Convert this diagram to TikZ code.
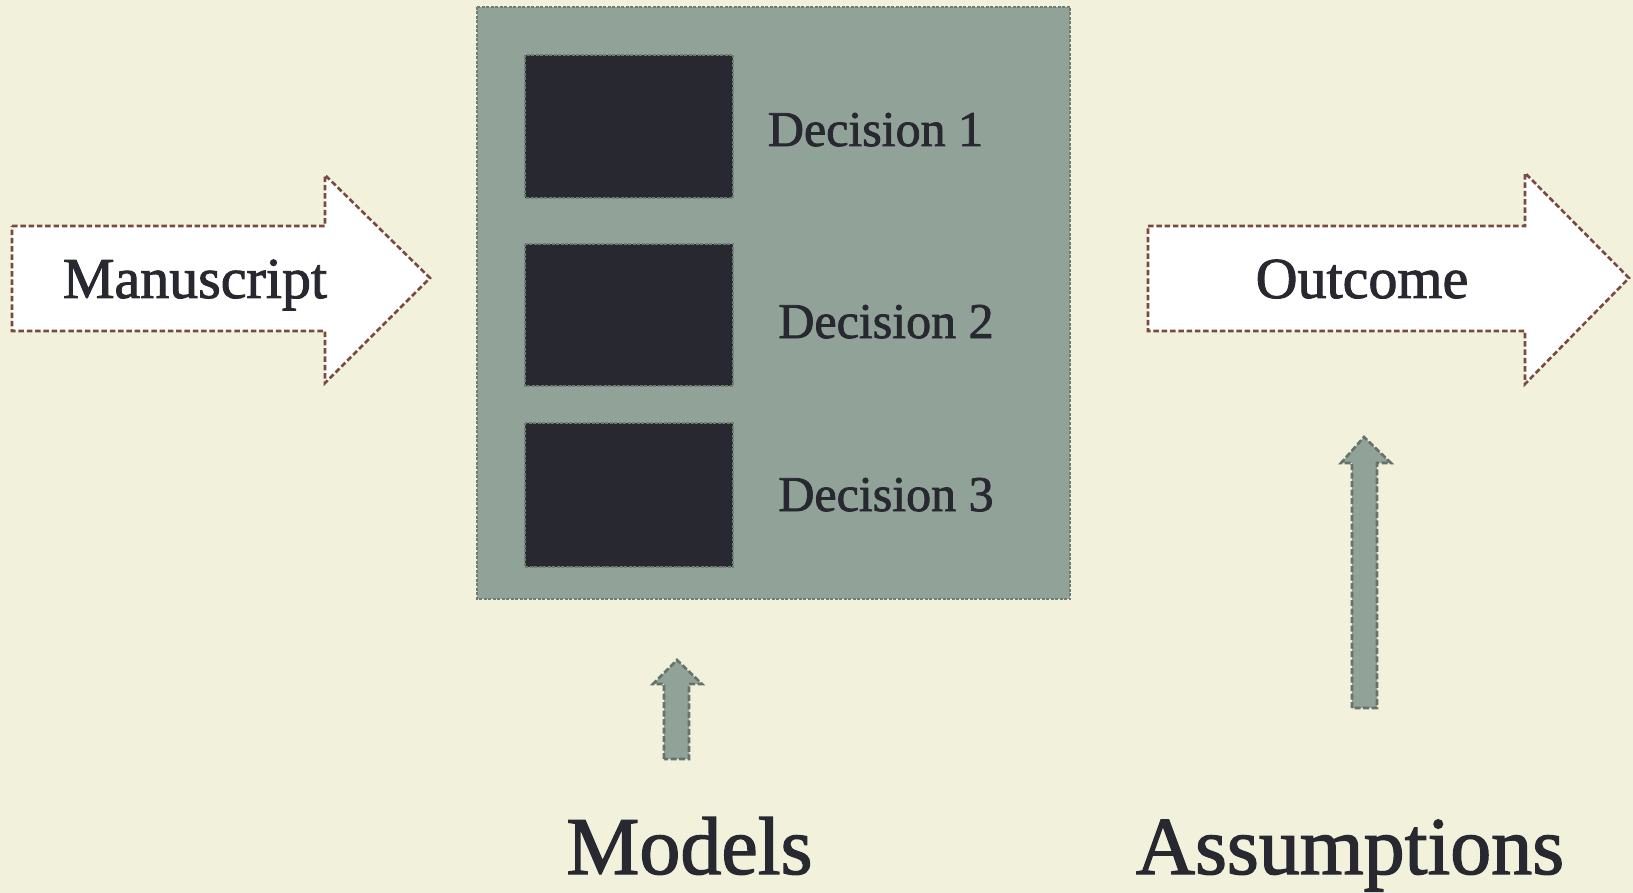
\documentclass[tikz,border=0pt]{standalone}
\usepackage{fontspec}
\setmainfont{Liberation Serif}
\newfontfamily\heavyserif[FakeBold=1.6]{Liberation Serif}
\definecolor{bg}{HTML}{F2F1DC}
\definecolor{boxfill}{HTML}{91A398}
\definecolor{boxline}{HTML}{6E7D73}
\definecolor{dark}{HTML}{282831}
\definecolor{brownline}{HTML}{7A4A40}
\definecolor{upline}{HTML}{66726B}
\tikzset{
  bigarrow/.style={fill=white, draw=brownline, line width=2.6pt, dash pattern=on 5.5pt off 2.8pt, line join=miter},
  panel/.style={fill=boxfill, draw=boxline, line width=1.4pt, dash pattern=on 3pt off 1.5pt},
  darkbox/.style={fill=dark, draw=boxline, line width=1.4pt, dash pattern=on 3pt off 1.5pt},
  uparrow/.style={fill=boxfill, draw=upline, line width=2.6pt, dash pattern=on 6pt off 2.5pt},
  arrowtext/.style={text=dark, anchor=base, inner sep=0pt, font=\heavyserif\fontsize{58}{66}\selectfont},
  dectext/.style={text=dark, anchor=base, inner sep=0pt, font=\heavyserif\fontsize{50}{58}\selectfont},
  bottomtext/.style={text=dark, anchor=base, inner sep=0pt, font=\heavyserif\fontsize{82}{92}\selectfont}
}
\begin{document}
\begin{tikzpicture}[x=1pt,y=-1pt]
\fill[bg] (0,0) rectangle (1633,893);
\useasboundingbox (0,0) rectangle (1633,893);
% left arrow
\draw[bigarrow] (12,226) -- (325,226) -- (325,175) -- (430,278) -- (325,383) -- (325,331) -- (12,331) -- cycle;
\node[arrowtext] (manuscript) at (195,298) {Manuscript};
% right arrow
\draw[bigarrow] (1148,226) -- (1525,226) -- (1525,173) -- (1629,278) -- (1525,384) -- (1525,331) -- (1148,331) -- cycle;
\node[arrowtext] (outcome) at (1362,298) {Outcome};
% central panel
\draw[panel] (477,7) rectangle (1070,599);
\draw[darkbox] (525,55) rectangle (733,198);
\draw[darkbox] (525,244) rectangle (733,386);
\draw[darkbox] (525,423) rectangle (733,567);
\node[dectext] (d1) at (875.5,146) {Decision 1};
\node[dectext] (d2) at (886,338) {Decision 2};
\node[dectext] (d3) at (886,511) {Decision 3};
% up arrows
\draw[uparrow] (664,759) -- (664,684) -- (653,684) -- (677,660) -- (702,684) -- (689,684) -- (689,759) -- cycle;
\draw[uparrow] (1352,708) -- (1352,463) -- (1341,463) -- (1364,437) -- (1391,463) -- (1377,463) -- (1377,708) -- cycle;
% bottom labels
\node[bottomtext] (models) at (689.5,874) {Models};
\node[bottomtext] (assumptions) at (1350,874) {Assumptions};
\end{tikzpicture}
\end{document}
